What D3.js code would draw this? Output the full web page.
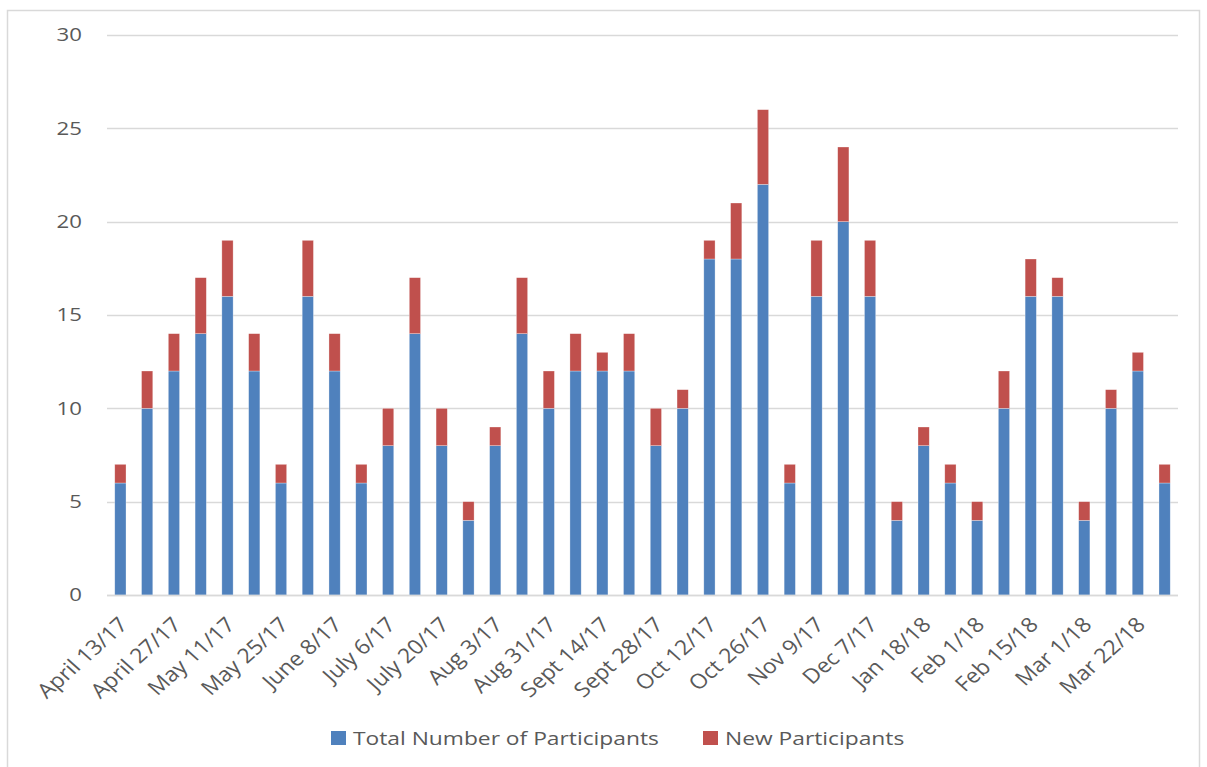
<!DOCTYPE html>
<html><head><meta charset="utf-8">
<script src="https://cdn.jsdelivr.net/npm/d3@7"></script>
<style>body{margin:0;background:#fff}svg{display:block}text{font-family:"Open Sans",sans-serif;fill:#595959}</style>
</head><body><svg id="c" width="1207" height="767"></svg>
<script>
const categories = ["April 13/17","April 20/17","April 27/17","May 4/17","May 11/17","May 18/17","May 25/17","June 1/17","June 8/17","June 29/17","July 6/17","July 13/17","July 20/17","July 27/17","Aug 3/17","Aug 24/17","Aug 31/17","Sept 7/17","Sept 14/17","Sept 21/17","Sept 28/17","Oct 5/17","Oct 12/17","Oct 19/17","Oct 26/17","Nov 2/17","Nov 9/17","Nov 30/17","Dec 7/17","Jan 11/18","Jan 18/18","Jan 25/18","Feb 1/18","Feb 8/18","Feb 15/18","Feb 22/18","Mar 1/18","Mar 15/18","Mar 22/18","Mar 29/18"];
const totalParticipants = [6,10,12,14,16,12,6,16,12,6,8,14,8,4,8,14,10,12,12,12,8,10,18,18,22,6,16,20,16,4,8,6,4,10,16,16,4,10,12,6];
const newParticipants   = [1,2,2,3,3,2,1,3,2,1,2,3,2,1,1,3,2,2,1,2,2,1,1,3,4,1,3,4,3,1,1,1,1,2,2,1,1,1,1,1];
const yTicks = [0,5,10,15,20,25,30];
const seriesNames = ["Total Number of Participants","New Participants"];
const colors = ["#4f81bd","#c0504d"];

const svg = d3.select("#c");
svg.append("rect").attr("x",7.5).attr("y",10.5).attr("width",1192).attr("height",780).attr("fill","none").attr("stroke","#d9d9d9").attr("stroke-width",1.5);

const m = {l:107, r:1178, t:35, b:595};
const x = d3.scaleBand().domain(categories).range([m.l,m.r]).padding(0.58).paddingOuter(0.29);
const y = d3.scaleLinear().domain([0,30]).range([m.b,m.t]);
const SX = 1.2;

svg.append("g").selectAll("line").data(yTicks).join("line")
  .attr("x1",m.l).attr("x2",m.r).attr("y1",d=>Math.round(y(d))+0.5).attr("y2",d=>Math.round(y(d))+0.5)
  .attr("stroke","#d9d9d9").attr("stroke-width",1.3);

svg.append("g").selectAll("text").data(yTicks).join("text")
  .attr("transform",d=>`translate(82,${y(d)}) scale(${SX},1)`)
  .attr("dy","0.35em").attr("text-anchor","end")
  .attr("font-size",18.5).text(d=>d);

const data = categories.map((c,i)=>({c, t: totalParticipants[i], n: newParticipants[i]}));
const stack = d3.stack().keys(["t","n"])(data);
svg.append("g").selectAll("g").data(stack).join("g").attr("fill",(d,i)=>colors[i])
  .selectAll("rect").data(d=>d).join("rect")
  .attr("x",d=>x(d.data.c)).attr("width",x.bandwidth())
  .attr("y",d=>y(d[1])).attr("height",d=>y(d[0])-y(d[1]))
  .attr("stroke","#fff").attr("stroke-width",0.6).attr("stroke-opacity",0.5);

svg.append("line").attr("x1",m.l).attr("x2",m.r).attr("y1",Math.round(y(0))+0.5).attr("y2",Math.round(y(0))+0.5).attr("stroke","#d9d9d9").attr("stroke-width",1.3);

svg.append("g").selectAll("text").data(categories.filter((d,i)=>i%2===0)).join("text")
  .attr("transform",d=>`translate(${x(d)+x.bandwidth()/2+3},${m.b+26}) scale(1.12,1) rotate(-45)`)
  .attr("text-anchor","end").attr("dy","0.35em").attr("font-size",20.5).text(d=>d);

const leg = [{x:331,name:seriesNames[0],c:colors[0]},{x:703,name:seriesNames[1],c:colors[1]}];
const lg = svg.append("g").selectAll("g").data(leg).join("g").attr("transform",d=>`translate(${d.x},731)`);
lg.append("rect").attr("width",15).attr("height",14).attr("fill",d=>d.c);
lg.append("text").attr("transform",`translate(22,7) scale(${SX},1)`).attr("dy","0.35em").attr("font-size",19).text(d=>d.name);
</script></body></html>
